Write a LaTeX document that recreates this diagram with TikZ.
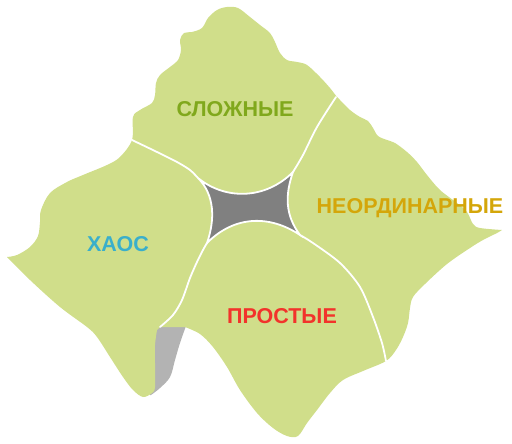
\documentclass[tikz,border=0pt]{standalone}
\usepackage{fontspec}
\setmainfont{Liberation Sans}
\usepackage{xcolor}
\definecolor{cynfield}{HTML}{D0DE8A}
\definecolor{cyncore}{HTML}{808080}
\definecolor{cynedgegrey}{HTML}{B3B3B3}
\definecolor{cyncomplex}{HTML}{80A81C}
\definecolor{cynodd}{HTML}{D4A60A}
\definecolor{cynchaos}{HTML}{3AAFCB}
\definecolor{cynsimple}{HTML}{F2332B}
\usetikzlibrary{calc}
\tikzset{
  cynzone/.style={fill=cynfield,draw=none},
  cynborder/.style={draw=white,line width=1.8pt,line cap=round},
  cynlabel/.style={font=\fontsize{21.5}{21.5}\selectfont\bfseries,anchor=base,inner sep=0pt},
}

\begin{document}
\begin{tikzpicture}[x=1pt,y=-1pt]
\useasboundingbox (0,0) rectangle (512,444);
% grey sliver under the field
\fill[cynedgegrey] (150,326) -- (186,326) -- plot[smooth,tension=0.6] coordinates {(186,326) (180,343) (175,360) (170,377) (160,388) (151,395)} -- (150,395) -- cycle;
% the whole field
\path[cynzone] plot[smooth,tension=0.55] coordinates {(7,257) (17,255) (30,247) (38,236) (40,222) (41,210) (50,193) (67,182) (83,175) (107,165) (120,157) (132,140) (133,117) (140,110) (152,103) (155,95) (156,83) (160,75) (170,67) (178,60) (181,50) (180,40) (184,33) (192,32) (202,28) (208,18) (217,10) (227,7) (238,8) (250,17) (260,25) (270,33) (275,42) (280,53) (287,60) (297,62) (307,65) (320,77) (330,88) (337,97) (340,100) (350,110) (360,117) (368,121) (373,128) (378,136) (387,140) (395,143) (407,152) (417,162) (427,175) (440,190) (457,203) (467,212) (473,224) (480,228) (502,230)}
  -- plot[smooth,tension=0.55] coordinates {(502,230) (497,233) (483,240) (470,248) (447,264) (425,284) (413,297) (410,308) (408,323) (403,337) (396,350) (386,361) (363,371) (343,380) (330,393) (317,410) (307,423) (298,436) (287,436) (273,428) (257,413) (240,390) (227,367) (213,347) (200,334) (185,327)}
  -- (160,327)
  -- plot[smooth,tension=0.55] coordinates {(157,330) (155,345) (155,363) (155,387) (152,393) (143,397) (133,390) (123,377) (110,357) (97,337) (87,327) (60,307) (30,280) (7,257)} -- cycle;
% cusps of the centre
\coordinate (tl) at (198,178);
\coordinate (tr) at (293,172);
\coordinate (br) at (300,235);
\coordinate (bl) at (207,243);
\filldraw[fill=cyncore,draw=white,line width=1.8pt]
  (tl) .. controls (225,200) and (265,200) .. (tr)
  .. controls (285,195) and (285,215) .. (br)
  .. controls (270,215) and (235,215) .. (bl)
  .. controls (215,220) and (215,195) .. (tl) -- cycle;
% borders between the domains
\draw[cynborder] plot[smooth] coordinates {(132,140) (157,152) (177,162) (190,170) (tl)};
\draw[cynborder] plot[smooth] coordinates {(336,97) (317,127) (303,155) (tr)};
\draw[cynborder] plot[smooth] coordinates {(br) (313,243) (340,263) (360,287) (373,317) (382,343) (386,361)};
\draw[cynborder] plot[smooth] coordinates {(bl) (203,250) (197,262) (190,278) (182,300) (173,315) (160,327)};
% domain names
\node[cynlabel,text=cyncomplex] (complex) at (235,117) {СЛОЖНЫЕ};
\node[cynlabel,text=cynodd] (complicated) at (410,213) {НЕОРДИНАРНЫЕ};
\node[cynlabel,text=cynchaos] (chaos) at (118,251) {ХАОС};
\node[cynlabel,text=cynsimple] (simple) at (282,323) {ПРОСТЫЕ};
\end{tikzpicture}
\end{document}
